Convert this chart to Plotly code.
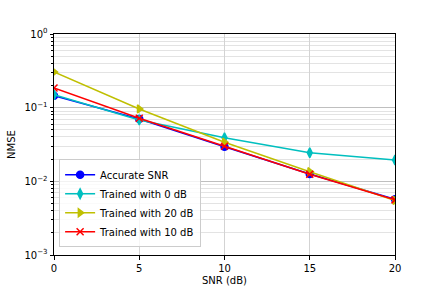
import plotly.graph_objects as go

snr = [0, 5, 10, 15, 20]
accurate = [0.145, 0.070, 0.0295, 0.0126, 0.0057]
trained0 = [0.150, 0.068, 0.039, 0.0244, 0.0195]
trained20 = [0.305, 0.096, 0.034, 0.0135, 0.0055]
trained10 = [0.185, 0.072, 0.030, 0.0125, 0.0056]

series = [
    ("Accurate SNR", accurate, "#0000ff", "circle"),
    ("Trained with 0 dB", trained0, "#00bfbf", "diamond-tall"),
    ("Trained with 20 dB", trained20, "#bfbf00", "triangle-right"),
    ("Trained with 10 dB", trained10, "#ff0000", "x-thin-open"),
]

fig = go.Figure()
for name, vals, col, sym in series:
    fig.add_trace(go.Scatter(
        x=snr, y=vals, name=name, mode="lines+markers",
        line=dict(color=col, width=1.5),
        marker=dict(symbol=sym, size=7, color=col, line=dict(color=col, width=1.5)),
    ))

minor_vals = []
for e in [-3, -2, -1]:
    for m in range(2, 10):
        minor_vals.append(m * 10 ** e)

fig.update_layout(
    width=439, height=292,
    margin=dict(l=54, r=44, t=34, b=37),
    paper_bgcolor="white", plot_bgcolor="white",
    font=dict(family="DejaVu Sans", size=10, color="black"),
    showlegend=True,
    legend=dict(x=0.015, y=0.035, xanchor="left", yanchor="bottom",
                bordercolor="#cccccc", borderwidth=1, bgcolor="rgba(255,255,255,0.8)",
                font=dict(size=10), tracegroupgap=0, itemsizing="trace",
                itemwidth=30),
    xaxis=dict(range=[0, 20], tickvals=[0, 5, 10, 15, 20], showgrid=True,
               gridcolor="#d3d3d3", gridwidth=1, zeroline=False, automargin=False,
               showline=True, linecolor="black", linewidth=1, mirror=True,
               ticks="outside", ticklen=3.5, tickcolor="black",
               title=dict(text="SNR (dB)", standoff=4, font=dict(size=10))),
    yaxis=dict(type="log", range=[-3, 0], tickvals=[1e-3, 1e-2, 1e-1, 1],
               ticktext=["10<sup>−3</sup>", "10<sup>−2</sup>", "10<sup>−1</sup>", "10<sup>0</sup>"],
               showgrid=True, gridcolor="#bfbfbf", gridwidth=1, zeroline=False, automargin=False,
               showline=True, linecolor="black", linewidth=1, mirror=True,
               ticks="outside", ticklen=3.5, tickcolor="black",
               minor=dict(tickvals=minor_vals, showgrid=True, gridcolor="#e3e3e3",
                          ticks="outside", ticklen=2, tickcolor="black"),
               title=dict(text="NMSE", standoff=6, font=dict(size=10))),
)

fig.write_html("out.html", config={"displayModeBar": False},
               post_script="document.body.style.margin='0';document.body.style.padding='0';")
